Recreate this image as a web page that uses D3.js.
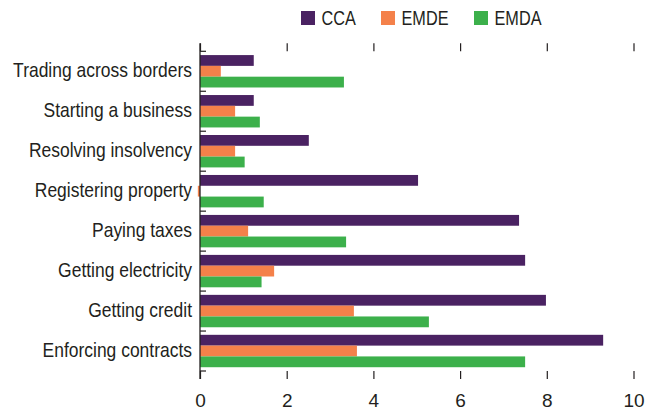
<!DOCTYPE html>
<html>
<head>
<meta charset="utf-8">
<script src="https://cdn.jsdelivr.net/npm/d3@7/dist/d3.min.js"></script>
<style>
  html, body { margin: 0; padding: 0; background: #fff; }
  svg text { font-family: "Liberation Sans Narrow", "Arial Narrow", "Liberation Sans", Arial, sans-serif; fill: #231f20; }
</style>
</head>
<body>
<svg id="chart" width="645" height="411"></svg>
<script>
// Indicator categories, top to bottom
const categories = [
  "Trading across borders",
  "Starting a business",
  "Resolving insolvency",
  "Registering property",
  "Paying taxes",
  "Getting electricity",
  "Getting credit",
  "Enforcing contracts"
];
const seriesNames = ["CCA", "EMDE", "EMDA"];
const ccaValues  = [1.24, 1.24, 2.51, 5.03, 7.36, 7.50, 7.98, 9.30];
const emdeValues = [0.48, 0.81, 0.81, -0.05, 1.11, 1.71, 3.55, 3.62];
const emdaValues = [3.32, 1.38, 1.03, 1.47, 3.37, 1.42, 5.28, 7.50];
const xTicks = [0, 2, 4, 6, 8, 10];
const colors = ["#4a2262", "#f4814a", "#3cb04b"];

const series = [ccaValues, emdeValues, emdaValues];

const svg = d3.select("#chart");
const ink = "#231f20";

const x = d3.scaleLinear().domain([0, 10]).range([200, 633.5]);
const y = d3.scaleBand().domain(categories).range([51.3, 371]).paddingInner(0).paddingOuter(0);
const inner = d3.scaleBand().domain(seriesNames).range([0, y.bandwidth()]).paddingOuter(0.35).paddingInner(0);

// Condensed type: horizontal squeeze that brings a sample string to a given width
function squeezeFor(sample, size, width) {
  const t = svg.append("text").style("font-size", size + "px").text(sample);
  const k = Math.min(1, width / t.node().getComputedTextLength());
  t.remove();
  return k;
}
function narrow(sel, k, ax, ay) {
  sel.attr("x", 0).attr("y", 0)
    .attr("transform", (d, i) => `translate(${ax(d, i)},${ay(d, i)}) scale(${k},1)`);
}

const labelSize = 20, legendSize = 20.5, tickSize = 19;
const kLabel = squeezeFor(categories[0], labelSize, 179);
const kLegend = squeezeFor("EMDA", legendSize, 47);
const kTick = squeezeFor("10", tickSize, 23);

// Bars
const groups = svg.append("g").selectAll("g")
  .data(categories)
  .join("g")
  .attr("transform", d => `translate(0,${y(d)})`);

groups.selectAll("rect")
  .data((d, i) => series.map((vals, s) => ({ s, v: vals[i] })))
  .join("rect")
  .attr("x", d => x(Math.min(0, d.v)))
  .attr("width", d => Math.abs(x(d.v) - x(0)))
  .attr("y", d => inner(seriesNames[d.s]))
  .attr("height", inner.bandwidth())
  .attr("fill", d => colors[d.s]);

// Bottom axis: tick marks and labels only
const bottomAxis = svg.append("g").attr("transform", `translate(0,371)`)
  .call(d3.axisBottom(x).tickValues(xTicks).tickSize(8).tickFormat(d3.format("d")));
bottomAxis.select(".domain").remove();
bottomAxis.selectAll("line").attr("stroke", ink).attr("stroke-width", 1.2);
bottomAxis.selectAll("text")
  .style("font-size", tickSize + "px")
  .attr("dy", null)
  .call(narrow, kTick, () => 0, () => 35.5);

// Top tick marks
const topAxis = svg.append("g").attr("transform", `translate(0,51.3)`)
  .call(d3.axisTop(x).tickValues(xTicks).tickSize(8).tickFormat(""));
topAxis.select(".domain").remove();
topAxis.selectAll("line").attr("stroke", ink).attr("stroke-width", 1.2);

// Category axis: boundary ticks pointing into the plot
const boundaries = d3.range(categories.length + 1).map(i => 51.3 + i * y.step());
svg.append("g").selectAll("line")
  .data(boundaries)
  .join("line")
  .attr("x1", 200).attr("x2", 206)
  .attr("y1", d => d).attr("y2", d => d)
  .attr("stroke", ink).attr("stroke-width", 1.2);

svg.append("line")
  .attr("x1", 200).attr("x2", 200)
  .attr("y1", 43.3).attr("y2", 379)
  .attr("stroke", ink).attr("stroke-width", 1.3);

// Category labels
svg.append("g").selectAll("text")
  .data(categories)
  .join("text")
  .attr("text-anchor", "end")
  .attr("dy", "0.28em")
  .style("font-size", labelSize + "px")
  .text(d => d)
  .call(narrow, kLabel, () => 192, d => y(d) + y.bandwidth() / 2);

// Legend
const legendX = [301, 381, 474];
const legend = svg.append("g").selectAll("g")
  .data(seriesNames)
  .join("g")
  .attr("transform", (d, i) => `translate(${legendX[i]},11)`);
legend.append("rect")
  .attr("width", 14).attr("height", 14)
  .attr("fill", (d, i) => colors[i]);
legend.append("text")
  .style("font-size", legendSize + "px")
  .text(d => d)
  .call(narrow, kLegend, () => 20.5, () => 14.3);
</script>
</body>
</html>
